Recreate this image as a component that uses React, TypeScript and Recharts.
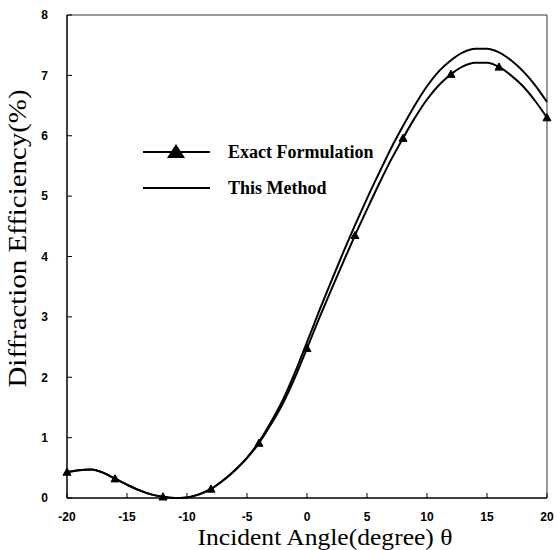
import React from 'react';
import { LineChart, Line, XAxis, YAxis, ReferenceLine, Legend } from 'recharts';

const angles = [-20, -19, -18, -17, -16, -15, -14, -13, -12, -11, -10, -9, -8, -7, -6, -5, -4, -3, -2, -1, 0, 1, 2, 3, 4, 5, 6, 7, 8, 9, 10, 11, 12, 13, 14, 15, 16, 17, 18, 19, 20];
const exactFormulation = [0.43, 0.46, 0.47, 0.42, 0.32, 0.22, 0.13, 0.06, 0.02, 0.0, 0.01, 0.06, 0.15, 0.29, 0.46, 0.66, 0.91, 1.22, 1.57, 2.0, 2.48, 2.97, 3.44, 3.9, 4.35, 4.78, 5.2, 5.6, 5.96, 6.3, 6.6, 6.84, 7.02, 7.15, 7.21, 7.21, 7.14, 7.0, 6.82, 6.58, 6.3];
const thisMethod = [0.43, 0.46, 0.47, 0.42, 0.32, 0.22, 0.13, 0.06, 0.02, 0.0, 0.01, 0.06, 0.15, 0.29, 0.46, 0.67, 0.93, 1.26, 1.63, 2.08, 2.58, 3.09, 3.58, 4.06, 4.52, 4.96, 5.38, 5.79, 6.16, 6.51, 6.82, 7.07, 7.25, 7.38, 7.44, 7.44, 7.38, 7.25, 7.07, 6.84, 6.56];
const markerAngles = [-20, -16, -12, -8, -4, 0, 4, 8, 12, 16, 20];
const xTicks = [-20, -15, -10, -5, 0, 5, 10, 15, 20];
const yTicks = [0, 1, 2, 3, 4, 5, 6, 7, 8];
const seriesNames = ['Exact Formulation', 'This Method'];
const xTitle = 'Incident Angle(degree) \u03b8';
const yTitle = 'Diffraction Efficiency(%)';

const data = angles.map((a, i) => ({ angle: a, exact: exactFormulation[i], method: thisMethod[i] }));

const serif = '"Liberation Serif", "Times New Roman", serif';

const TriangleDot = (props: any) => {
  const { cx, cy, payload, index } = props;
  if (!markerAngles.includes(payload.angle)) return <g key={`d${index}`} />;
  const s = 4;
  return (
    <path
      key={`d${index}`}
      d={`M${cx},${cy - s} L${cx + s},${cy + s * 0.8} L${cx - s},${cy + s * 0.8} Z`}
      fill="#000"
      stroke="#000"
    />
  );
};

const LegendContent = () => (
  <svg width={260} height={72}>
    {seriesNames.map((name, i) => (
      <g key={name} transform={`translate(0, ${18 + i * 36})`}>
        <line x1={0} y1={0} x2={67} y2={0} stroke="#000" strokeWidth={2} />
        {i === 0 && <path d="M33,-8 L42,6 L24,6 Z" fill="#000" />}
        <text x={85} y={6} fontFamily={serif} fontWeight="bold" fontSize={18} fill="#000">
          {name}
        </text>
      </g>
    ))}
  </svg>
);

const tickStyle = { fontFamily: '"Liberation Sans", Arial, sans-serif', fontWeight: 'bold', fontSize: 12, fill: '#000' };

export default function App() {
  return (
    <div style={{ position: 'absolute', left: 0, top: 0, background: '#fff' }}>
      <LineChart width={557} height={550} data={data} margin={{ top: 15, right: 10, bottom: 0, left: 0 }}>
        <XAxis
          dataKey="angle"
          type="number"
          domain={[-20, 20]}
          ticks={xTicks}
          tick={tickStyle}
          tickSize={-5}
          tickMargin={19}
          height={52}
          stroke="#000"
          axisLine={{ stroke: '#000', strokeWidth: 1.5 }}
          tickLine={{ stroke: '#000' }}
          label={(p: any) => {
            const vb = p.viewBox;
            return (
              <text
                x={vb.x + vb.width / 2 + 18}
                y={vb.y + vb.height - 5}
                textAnchor="middle"
                fontFamily={serif}
                fontSize={24}
                textLength={255}
                lengthAdjust="spacingAndGlyphs"
                fill="#000"
              >
                {xTitle}
              </text>
            );
          }}
        />
        <YAxis
          type="number"
          domain={[0, 8]}
          ticks={yTicks}
          tick={tickStyle}
          tickSize={-5}
          tickMargin={24}
          width={67}
          axisLine={{ stroke: '#000', strokeWidth: 1.5 }}
          tickLine={{ stroke: '#000' }}
          label={(p: any) => {
            const vb = p.viewBox;
            const cx = 26;
            const cy = vb.y + vb.height / 2 - 18;
            return (
              <text
                x={cx}
                y={cy}
                transform={`rotate(-90 ${cx} ${cy})`}
                textAnchor="middle"
                fontFamily={serif}
                fontSize={25}
                textLength={298}
                lengthAdjust="spacingAndGlyphs"
                fill="#000"
              >
                {yTitle}
              </text>
            );
          }}
        />
        <ReferenceLine y={8} stroke="#333" strokeWidth={1} />
        <ReferenceLine x={20} stroke="#333" strokeWidth={1} />
        <Legend
          verticalAlign="middle"
          align="center"
          layout="vertical"
          content={<LegendContent />}
          wrapperStyle={{ left: 143, top: 134, width: 260 }}
        />
        <Line
          type="monotone"
          dataKey="method"
          name={seriesNames[1]}
          stroke="#000"
          strokeWidth={2}
          dot={false}
          isAnimationActive={false}
        />
        <Line
          type="monotone"
          dataKey="exact"
          name={seriesNames[0]}
          stroke="#000"
          strokeWidth={2}
          dot={TriangleDot}
          isAnimationActive={false}
        />
      </LineChart>
    </div>
  );
}
